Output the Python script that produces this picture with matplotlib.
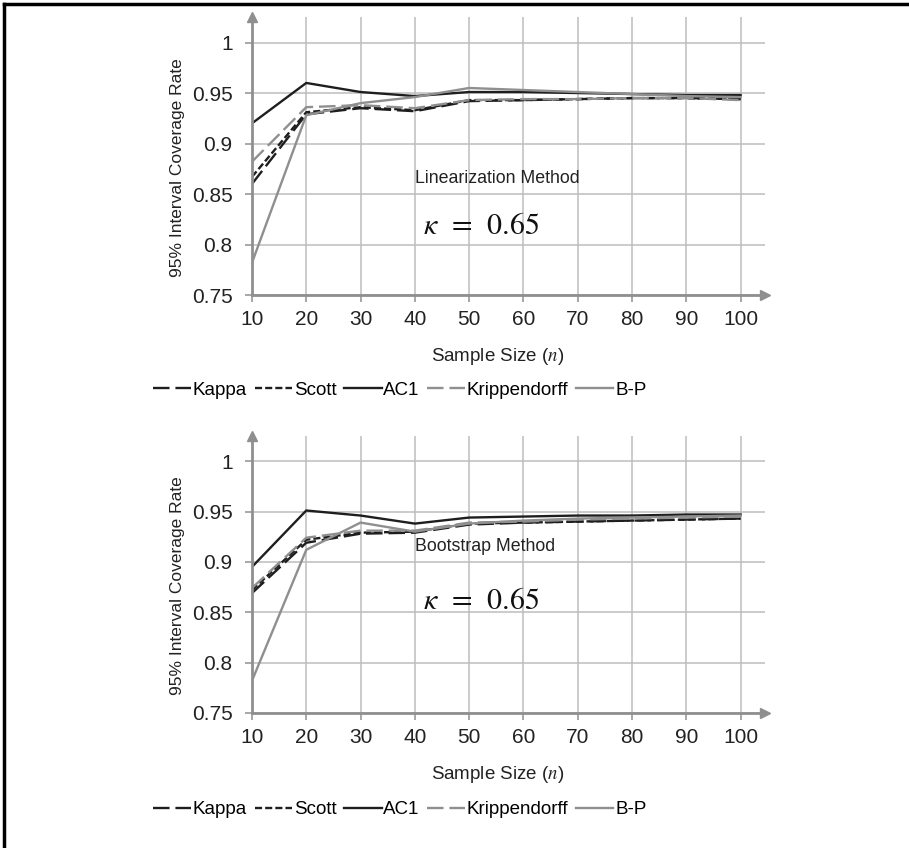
import numpy as np
import matplotlib
matplotlib.use("Agg")
import matplotlib.pyplot as plt
from matplotlib.lines import Line2D

plt.rcParams['font.family'] = ['Liberation Sans', 'DejaVu Sans']
plt.rcParams['mathtext.fontset'] = 'stix'

n = [10, 20, 30, 40, 50, 60, 70, 80, 90, 100]
series = ["Kappa", "Scott", "AC1", "Krippendorff", "B-P"]

# linearization method
lin_kappa = [0.860, 0.929, 0.935, 0.932, 0.942, 0.943, 0.944, 0.945, 0.945, 0.944]
lin_scott = [0.867, 0.931, 0.936, 0.933, 0.943, 0.943, 0.944, 0.945, 0.945, 0.944]
lin_ac1 = [0.920, 0.960, 0.951, 0.947, 0.951, 0.951, 0.950, 0.949, 0.948, 0.948]
lin_kripp = [0.882, 0.936, 0.938, 0.935, 0.943, 0.944, 0.944, 0.945, 0.945, 0.943]
lin_bp = [0.782, 0.928, 0.940, 0.946, 0.955, 0.953, 0.951, 0.949, 0.947, 0.946]

# bootstrap method
bs_kappa = [0.869, 0.919, 0.928, 0.929, 0.937, 0.939, 0.940, 0.941, 0.942, 0.943]
bs_scott = [0.872, 0.922, 0.929, 0.930, 0.938, 0.939, 0.940, 0.941, 0.942, 0.943]
bs_ac1 = [0.895, 0.951, 0.946, 0.938, 0.944, 0.945, 0.946, 0.946, 0.947, 0.947]
bs_kripp = [0.874, 0.924, 0.931, 0.931, 0.939, 0.940, 0.942, 0.943, 0.944, 0.945]
bs_bp = [0.782, 0.912, 0.939, 0.930, 0.938, 0.941, 0.943, 0.944, 0.945, 0.946]

yticks = [0.75, 0.8, 0.85, 0.9, 0.95, 1]
ytick_labels = ["0.75", "0.8", "0.85", "0.9", "0.95", "1"]

BLACK = '#1e1e1e'
GRAY = '#8f8f8f'
styles = [
    dict(color=BLACK, dashes=(7, 2.5)),
    dict(color=BLACK, dashes=(3, 1.3)),
    dict(color=BLACK, linestyle='-'),
    dict(color=GRAY, dashes=(7, 2.5)),
    dict(color=GRAY, linestyle='-'),
]

fig = plt.figure(figsize=(9.09, 8.48), dpi=100)
FS = 13.5
TICK_FS = 15


def draw_panel(ax, data, method, ytext, ykappa):
    for vals, st, name in zip(data, styles, series):
        ax.plot(n, vals, lw=1.7, label=name, **st)
    ax.set_xlim(10, 104.5)
    ax.set_ylim(0.75, 1.025)
    ax.set_xticks(n)
    ax.set_yticks(yticks)
    ax.set_yticklabels(ytick_labels)
    ax.grid(True, color='#bdbdbd', lw=1.1)
    ax.set_axisbelow(True)
    for s in ['top', 'right']:
        ax.spines[s].set_visible(False)
    for s in ['left', 'bottom']:
        ax.spines[s].set_color('#8f8f8f')
        ax.spines[s].set_linewidth(2)
    ax.tick_params(axis='both', colors='#8f8f8f', length=5, width=1.1,
                   labelsize=TICK_FS, labelcolor='#222222')
    ax.tick_params(axis='x', pad=6)
    ax.tick_params(axis='y', pad=9)
    ax.plot(1, 0, '>', color='#8f8f8f', ms=7, transform=ax.transAxes, clip_on=False)
    ax.plot(0, 1, '^', color='#8f8f8f', ms=7, transform=ax.transAxes, clip_on=False)
    ax.set_ylabel("95% Interval Coverage Rate", fontsize=12.5, color='#222222')
    ax.yaxis.set_label_coords(-0.13, 0.46)
    ax.set_xlabel("Sample Size ($n$)", fontsize=FS, color='#222222')
    ax.xaxis.set_label_coords(0.478, -0.185)
    ax.text(40, ytext, method, fontsize=12.8, color='#222222', va='center')
    ax.text(41.5, ykappa, r"$\kappa\ \,=\ \,0.65$", fontsize=21.5, color='#111111', va='center')


ax1 = fig.add_axes([0.2772, 0.6521, 0.5644, 0.3275])
draw_panel(ax1, [lin_kappa, lin_scott, lin_ac1, lin_kripp, lin_bp],
           "Linearization Method", 0.865, 0.818)
ax2 = fig.add_axes([0.2772, 0.1592, 0.5644, 0.3267])
draw_panel(ax2, [bs_kappa, bs_scott, bs_ac1, bs_kripp, bs_bp],
           "Bootstrap Method", 0.915, 0.861)

for ax, yl in [(ax1, 0.540), (ax2, 0.045)]:
    h, l = ax.get_legend_handles_labels()
    fig.legend(h, l, loc='center', bbox_to_anchor=(0.44, yl), ncol=5, frameon=False,
               fontsize=FS, handlelength=2.0, handletextpad=0.1, columnspacing=0.4)

# frame around the figure (left and top edges visible)
fig.add_artist(Line2D([4 / 909, 4 / 909], [0, 1 - 4 / 848], color='black', lw=2.5,
                      transform=fig.transFigure))
fig.add_artist(Line2D([4 / 909, 1], [1 - 4 / 848, 1 - 4 / 848], color='black', lw=2.5,
                      transform=fig.transFigure))

fig.savefig("out.png", dpi=100)
